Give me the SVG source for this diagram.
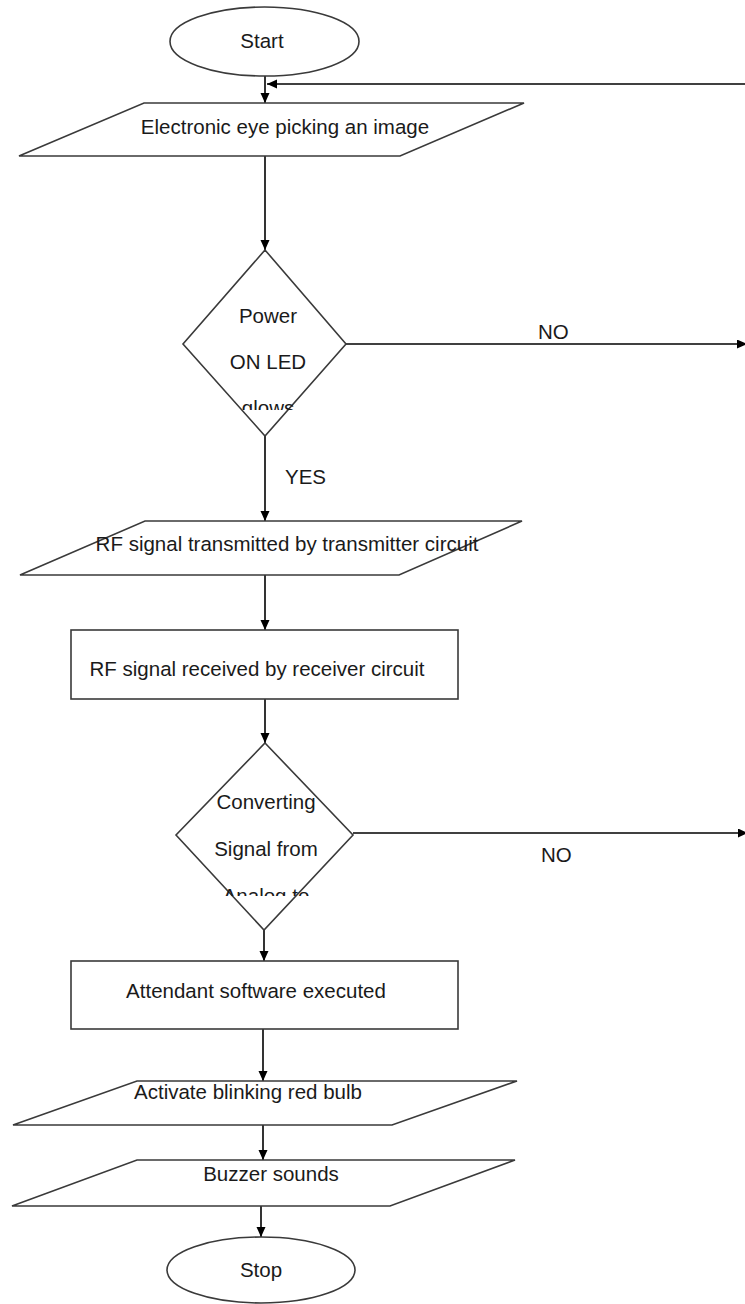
<svg xmlns="http://www.w3.org/2000/svg" width="745" height="1304" viewBox="0 0 745 1304">
<defs>
<style>
.shape{fill:#fff;stroke:#3a3a3a;stroke-width:1.6}
.conn{fill:none;stroke:#000;stroke-width:1.6}
.t{font-family:"Liberation Sans",Arial,sans-serif;font-size:20.5px;fill:#1a1a1a;text-anchor:middle}
.tl{font-family:"Liberation Sans",Arial,sans-serif;font-size:20.5px;fill:#1a1a1a}
</style>
<marker id="ah" markerUnits="userSpaceOnUse" markerWidth="11" markerHeight="10" refX="10" refY="4.5" orient="auto">
<path d="M0,0 L10,4.5 L0,9 z" fill="#000"/>
</marker>
<clipPath id="c1"><rect x="150" y="290" width="240" height="120"/></clipPath>
<clipPath id="c2"><rect x="150" y="780" width="240" height="116"/></clipPath>
</defs>
<rect width="745" height="1304" fill="#fff"/>

<g id="connectors">
<line class="conn" x1="265" y1="76" x2="265" y2="103" marker-end="url(#ah)"/>
<line class="conn" x1="746" y1="84" x2="267" y2="84" marker-end="url(#ah)"/>
<line class="conn" x1="265" y1="156" x2="265" y2="250" marker-end="url(#ah)"/>
<line class="conn" x1="346" y1="344" x2="747" y2="344" marker-end="url(#ah)"/>
<line class="conn" x1="265" y1="436" x2="265" y2="521" marker-end="url(#ah)"/>
<line class="conn" x1="265" y1="575" x2="265" y2="630" marker-end="url(#ah)"/>
<line class="conn" x1="265" y1="699" x2="265" y2="743" marker-end="url(#ah)"/>
<line class="conn" x1="353" y1="833" x2="748" y2="833" marker-end="url(#ah)"/>
<line class="conn" x1="264" y1="930" x2="264" y2="961" marker-end="url(#ah)"/>
<line class="conn" x1="263" y1="1029" x2="263" y2="1081" marker-end="url(#ah)"/>
<line class="conn" x1="263" y1="1125" x2="263" y2="1160" marker-end="url(#ah)"/>
<line class="conn" x1="261" y1="1206" x2="261" y2="1237" marker-end="url(#ah)"/>
<text class="tl" x="538" y="339">NO</text>
<text class="tl" x="285" y="484">YES</text>
<text class="tl" x="541" y="862">NO</text>
</g>

<g id="start">
<ellipse class="shape" cx="264.5" cy="41.5" rx="94.5" ry="34.5"/>
<text class="t" x="262" y="48">Start</text>
</g>

<g id="eye">
<polygon class="shape" points="144,103 524,103 400,156 19,156"/>
<text class="t" x="285" y="134">Electronic eye picking an image</text>
</g>

<g id="power">
<polygon class="shape" points="265,250 346,344 265,436 183,344"/>
<g clip-path="url(#c1)">
<text class="t" x="268" y="323">Power</text>
<text class="t" x="268" y="369">ON LED</text>
<text class="t" x="268" y="415">glows</text>
</g>
</g>

<g id="transmit">
<polygon class="shape" points="145,521 522,521 399,575 20,575"/>
<text class="t" x="287" y="551">RF signal transmitted by transmitter circuit</text>
</g>

<g id="receive">
<rect class="shape" x="71" y="630" width="387" height="69"/>
<text class="t" x="257" y="676">RF signal received by receiver circuit</text>
</g>

<g id="convert">
<polygon class="shape" points="265,743 353,835 264,930 176,835"/>
<g clip-path="url(#c2)">
<text class="t" x="266" y="809">Converting</text>
<text class="t" x="266" y="856">Signal from</text>
<text class="t" x="266" y="903">Analog to</text>
</g>
</g>

<g id="attendant">
<rect class="shape" x="71" y="961" width="387" height="68"/>
<text class="t" x="256" y="998">Attendant software executed</text>
</g>

<g id="bulb">
<polygon class="shape" points="137,1081 517,1081 392,1125 13,1125"/>
<text class="t" x="248" y="1099">Activate blinking red bulb</text>
</g>

<g id="buzzer">
<polygon class="shape" points="137,1160 515,1160 390,1206 12,1206"/>
<text class="t" x="271" y="1181">Buzzer sounds</text>
</g>

<g id="stop">
<ellipse class="shape" cx="261" cy="1270" rx="94" ry="33"/>
<text class="t" x="261" y="1277">Stop</text>
</g>
</svg>
